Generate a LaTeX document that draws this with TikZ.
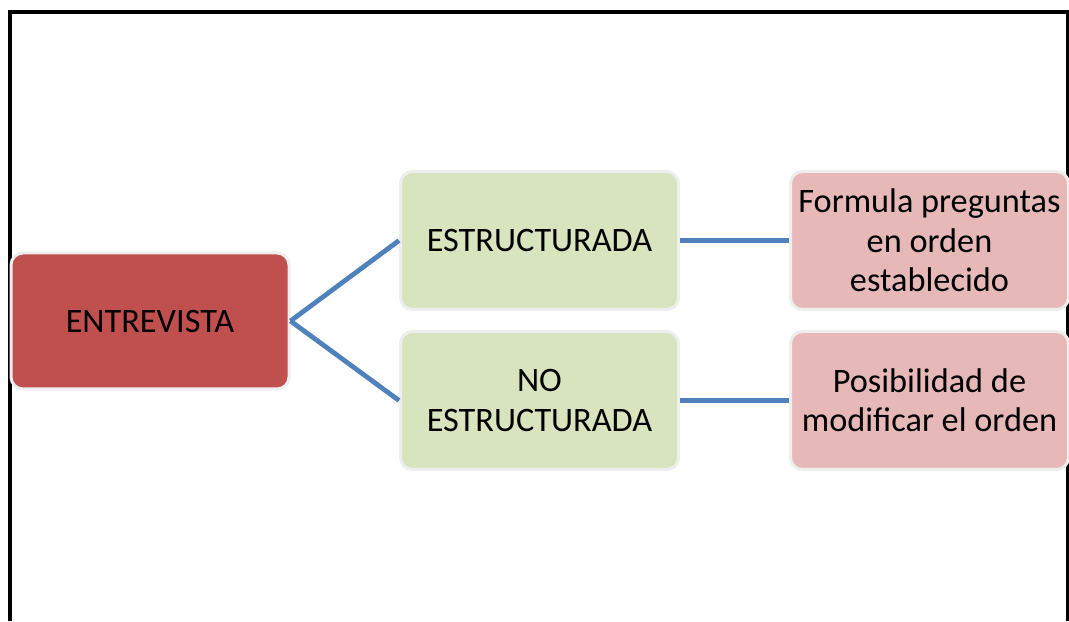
\documentclass[tikz,border=0pt]{standalone}
\usepackage{fontspec}
\setmainfont{Carlito}
\usepackage{tikz}
\usetikzlibrary{shapes,calc}

\definecolor{boxred}{HTML}{C0504D}
\definecolor{boxgreen}{HTML}{D7E4BD}
\definecolor{boxpink}{HTML}{E6B9B8}
\definecolor{linkblue}{HTML}{4F81BD}
\definecolor{rimgrey}{HTML}{EEEEEE}

\begin{document}
\begin{tikzpicture}[]
    \tikzstyle{link} = [line width=0.12cm,draw=linkblue]
    \tikzstyle{shared}=[
      rectangle,
      rounded corners=0.3cm,
      draw=rimgrey,
      line width=0.075cm,
      align=center,
      font=\fontsize{24.4pt}{28pt}\selectfont,
      inner sep=0pt,
    ]
    \tikzstyle{root}=[
      shared,
      fill=boxred,
      minimum width=6.95cm,
      minimum height=3.4cm,
    ]
    \tikzstyle{kind}=[
      shared,
      fill=boxgreen,
      minimum width=6.95cm,
      minimum height=3.45cm,
    ]
    \tikzstyle{detail}=[
      shared,
      fill=boxpink,
      minimum width=6.95cm,
      minimum height=3.45cm,
    ]

    \useasboundingbox (0,0) rectangle (26.725,15.525);
    \draw[line width=0.1cm] (0.25,0) -- (0.25,15.2125) -- (26.6875,15.2125) -- (26.6875,0);

    \node[root] (entrevista) at (3.75,7.5) {ENTREVISTA};
    \node[kind] (estructurada) at (13.4875,9.5125) {ESTRUCTURADA};
    \node[kind] (no estructurada) at (13.4875,5.5125) {NO\\ESTRUCTURADA};
    \node[detail] (orden fijo) at (23.2375,9.5125) {Formula preguntas\\en orden\\establecido};
    \node[detail] (orden libre) at (23.2375,5.5125) {Posibilidad de\\modificar el orden};

    \draw[link] (entrevista.east)--(estructurada.west);
    \draw[link] (entrevista.east)--(no estructurada.west);
    \draw[link] (estructurada.east)--(orden fijo.west);
    \draw[link] (no estructurada.east)--(orden libre.west);
  \end{tikzpicture}
\end{document}
